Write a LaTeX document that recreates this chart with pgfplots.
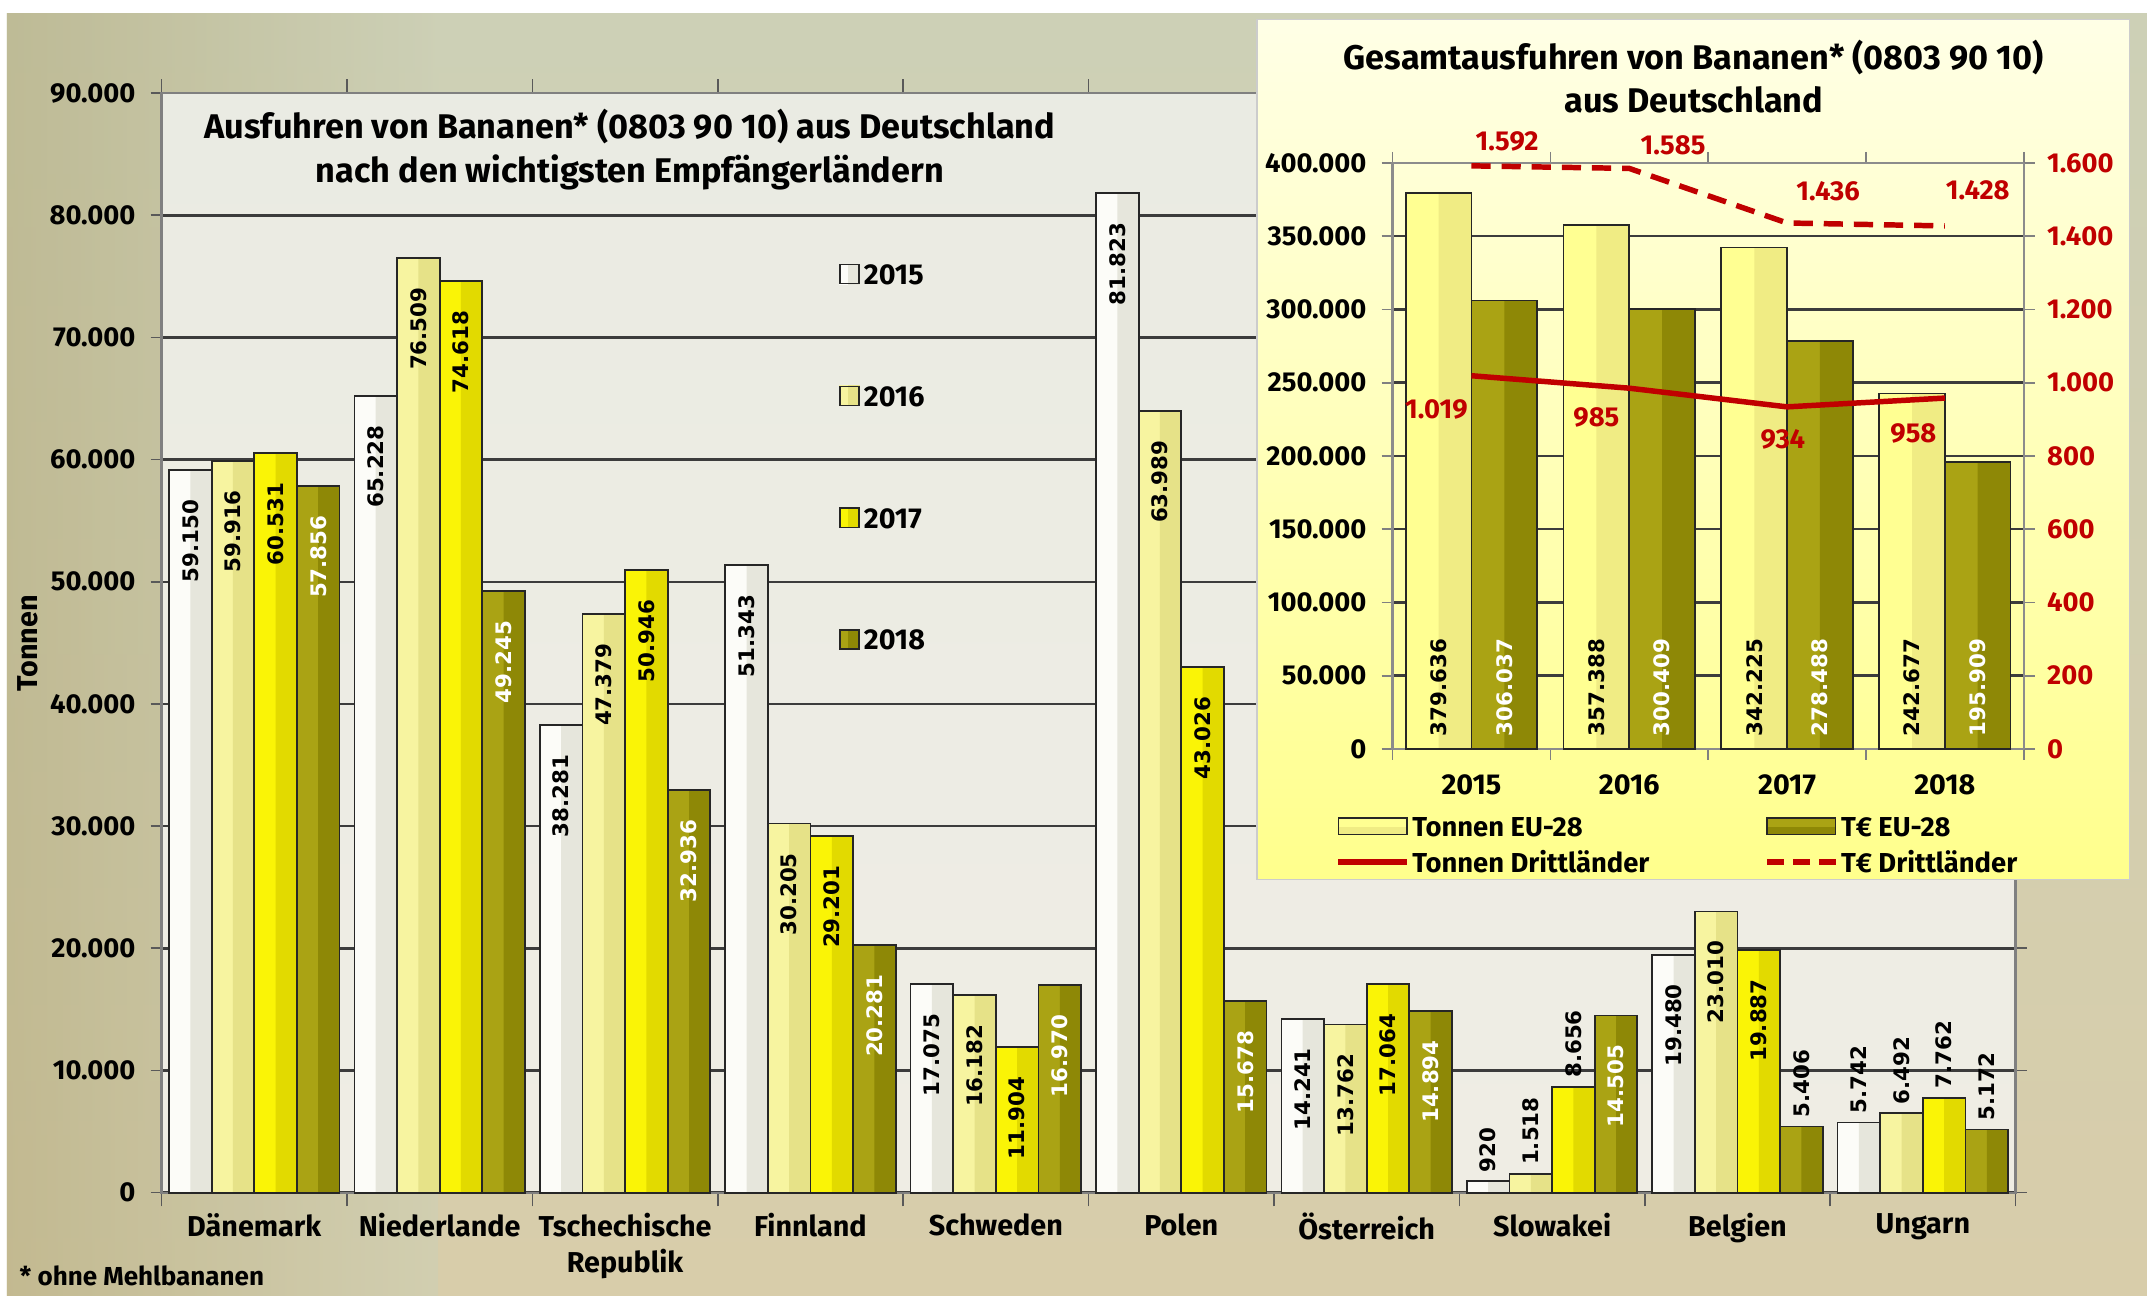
\documentclass[border=0pt]{standalone}
\usepackage{pgfplots}
\pgfplotsset{compat=1.18}
\usepackage{pgfplotstable}
\usepackage{fontspec}
\setmainfont{Fira Sans}
\newfontfamily\valfont{DejaVu Sans}

% bar colours: light (left half) and dark (right half)
\definecolor{aL}{HTML}{FCFCF8}\definecolor{aR}{HTML}{E6E6DC}
\definecolor{bL}{HTML}{F7F4A0}\definecolor{bR}{HTML}{E6E288}
\definecolor{cL}{HTML}{FAF406}\definecolor{cR}{HTML}{E2DA00}
\definecolor{dL}{HTML}{AAA314}\definecolor{dR}{HTML}{8E8806}
\definecolor{tL}{HTML}{FFFF92}\definecolor{tR}{HTML}{F0EC84}
\definecolor{dred}{HTML}{C00000}
\definecolor{gridc}{HTML}{3C3C3C}
\definecolor{photoTop}{HTML}{CDD0B6}
\definecolor{photoBot}{HTML}{D8CDAA}
\definecolor{photoL}{HTML}{B2AA7C}
\definecolor{plotTop}{HTML}{EAEBE3}
\definecolor{plotBot}{HTML}{EFEDE4}
\definecolor{insTop}{HTML}{FFFFE6}
\definecolor{insBot}{HTML}{FFFF8C}

% main chart, tonnes per year (fills); the labelled outlines repeat them below
\pgfplotstableread{
x y
0 59150
1 65228
2 38281
3 51343
4 17075
5 81823
6 14241
7 920
8 19480
9 5742
}\dA
\pgfplotstableread{
x y
0 59916
1 76509
2 47379
3 30205
4 16182
5 63989
6 13762
7 1518
8 23010
9 6492
}\dB
\pgfplotstableread{
x y
0 60531
1 74618
2 50946
3 29201
4 11904
5 43026
6 17064
7 8656
8 19887
9 7762
}\dC
\pgfplotstableread{
x y
0 57856
1 49245
2 32936
3 20281
4 16970
5 15678
6 14894
7 14505
8 5406
9 5172
}\dD

% inset bars (tonnes / thousand euro, EU-28)
\pgfplotstableread{
x y
0 379636
1 357388
2 342225
3 242677
}\dataTon
\pgfplotstableread{
x y
0 306037
1 300409
2 278488
3 195909
}\dataEur

\pgfplotsset{
  numfmt/.style={
    /pgf/number format/fixed, /pgf/number format/precision=0,
    /pgf/number format/1000 sep={.}, /pgf/number format/assume math mode=true},
  % two-tone bar: light full bar, darker right half
  fillL/.style={ybar, bar shift=0, draw=none, fill=#1, forget plot},
  fillR/.style={ybar, bar shift=0, draw=none, fill=#1, forget plot},
  outl/.style={ybar, bar shift=0, fill=none, draw=black!85, line width=0.65pt},
  sq/.style 2 args={legend image code/.code={
      \fill[#1] (0pt,-3.5pt) rectangle (7pt,3.5pt);
      \fill[#2] (3.5pt,-3.5pt) rectangle (7pt,3.5pt);
      \draw[black!85, line width=0.6pt] (0pt,-3.5pt) rectangle (7pt,3.5pt);}},
  vlab/.style={
    nodes near coords,
    visualization depends on={value \thisrow{anc}\as\myAnc},
    visualization depends on={\thisrow{ys}\as\myYs},
    visualization depends on={value \thisrow{tc}\as\myTc},
    every node near coord/.append style={font=\valfont\bfseries\fontsize{7.8}{9}\selectfont,
      inner sep=0pt, yshift=\myYs pt, rotate=90, anchor=\myAnc, text=\myTc}},
  baselab/.style={ybar, bar shift=0, draw=none, fill=none, forget plot,
    nodes near coords, point meta=explicit,
    every node near coord/.append style={font=\valfont\bfseries\fontsize{7.8}{9}\selectfont,
      inner sep=0pt, yshift=4.5pt, rotate=90, anchor=west, text=#1}},
  linelab/.style={nodes near coords,
    visualization depends on={\thisrow{dx}\as\myDx},
    visualization depends on={\thisrow{dy}\as\myDy},
    every node near coord/.append style={font=\bfseries\fontsize{10}{12}\selectfont,
      text=dred, anchor=center, inner sep=0pt, xshift=\myDx pt, yshift=\myDy pt}},
}

\begin{document}
\begin{tikzpicture}
\useasboundingbox (0,0) rectangle (784pt,473pt);
\fill[white] (0,0) rectangle (784pt,473pt);
\shade[top color=photoTop, bottom color=photoBot] (2.5pt,0) rectangle (784pt,468pt);
\shade[left color=photoL, right color=photoTop, opacity=0.55] (2.5pt,0) rectangle (160pt,468pt);

\begin{axis}[
  at={(59pt,37.5pt)}, anchor=south west,
  scale only axis, width=677pt, height=401.5pt,
  xmin=-0.5, xmax=9.5, ymin=0, ymax=90000,
  bar width=0.23,
  clip=false,
  axis background/.style={top color=plotTop, bottom color=plotBot},
  xtick={0,...,9},
  xticklabels={Dänemark,Niederlande,{Tschechische\\Republik},Finnland,Schweden,Polen,Österreich,Slowakei,Belgien,Ungarn},
  xticklabel style={align=center, font=\bfseries\fontsize{10.5}{13}\selectfont},
  major x tick style={draw=none},
  minor xtick={-0.5,0.5,...,9.5},
  ytick={0,10000,...,90000},
  scaled y ticks=false,
  yticklabel style={font=\bfseries\fontsize{10}{12}\selectfont, xshift=-2pt},
  tick align=outside, major tick length=4pt, minor tick length=5pt,
  tick style={draw=black!65, line width=0.6pt},
  ymajorgrids, grid style={draw=gridc, line width=0.9pt},
  axis line style={draw=black!50, line width=0.8pt},
  numfmt,
  legend cell align=left,
  legend style={at={(0.365,0.849)}, anchor=north west, draw=none, fill=none,
    inner sep=0pt, row sep=34pt, font=\bfseries\fontsize{10.5}{12}\selectfont,
    nodes={inner sep=1.5pt, text height=7.5pt, text depth=0pt}},
]
% 2015
\addplot[fillL=aL] table[x expr=\thisrow{x}-0.345, y=y]{\dA};
\addplot[fillR=aR, bar width=0.115] table[x expr=\thisrow{x}-0.2875, y=y]{\dA};
\addplot[outl, vlab, sq={aL}{aR}] table[x expr=\thisrow{x}-0.345, y=y]{
x y anc ys tc
0 59150 east -10.5 black
1 65228 east -10.5 black
2 38281 east -10.5 black
3 51343 east -10.5 black
4 17075 east -10.5 black
5 81823 east -10.5 black
6 14241 east -10.5 black
7 920 west 3 black
8 19480 east -10.5 black
9 5742 west 3 black
};
\addlegendentry{2015}
% 2016
\addplot[fillL=bL] table[x expr=\thisrow{x}-0.115, y=y]{\dB};
\addplot[fillR=bR, bar width=0.115] table[x expr=\thisrow{x}-0.0575, y=y]{\dB};
\addplot[outl, vlab, sq={bL}{bR}] table[x expr=\thisrow{x}-0.115, y=y]{
x y anc ys tc
0 59916 east -10.5 black
1 76509 east -10.5 black
2 47379 east -10.5 black
3 30205 east -10.5 black
4 16182 east -10.5 black
5 63989 east -10.5 black
6 13762 east -10.5 black
7 1518 west 3 black
8 23010 east -10.5 black
9 6492 west 3 black
};
\addlegendentry{2016}
% 2017
\addplot[fillL=cL] table[x expr=\thisrow{x}+0.115, y=y]{\dC};
\addplot[fillR=cR, bar width=0.115] table[x expr=\thisrow{x}+0.1725, y=y]{\dC};
\addplot[outl, vlab, sq={cL}{cR}] table[x expr=\thisrow{x}+0.115, y=y]{
x y anc ys tc
0 60531 east -10.5 black
1 74618 east -10.5 black
2 50946 east -10.5 black
3 29201 east -10.5 black
4 11904 east -10.5 black
5 43026 east -10.5 black
6 17064 east -10.5 black
7 8656 west 3 black
8 19887 east -10.5 black
9 7762 west 3 black
};
\addlegendentry{2017}
% 2018
\addplot[fillL=dL] table[x expr=\thisrow{x}+0.345, y=y]{\dD};
\addplot[fillR=dR, bar width=0.115] table[x expr=\thisrow{x}+0.4025, y=y]{\dD};
\addplot[outl, vlab, sq={dL}{dR}] table[x expr=\thisrow{x}+0.345, y=y]{
x y anc ys tc
0 57856 east -10.5 white
1 49245 east -10.5 white
2 32936 east -10.5 white
3 20281 east -10.5 white
4 16970 east -10.5 white
5 15678 east -10.5 white
6 14894 east -10.5 white
7 14505 east -10.5 white
8 5406 west 3 black
9 5172 west 3 black
};
\addlegendentry{2018}
\end{axis}

\node[align=center, font=\bfseries\fontsize{12.5}{16}\selectfont] at (230pt,418.5pt)
  {Ausfuhren von Bananen* (0803 90 10) aus Deutschland\\nach den wichtigsten Empfängerländern};
\node[rotate=90, font=\bfseries\fontsize{10.5}{12}\selectfont] at (10pt,238pt) {Tonnen};
\node[anchor=west, inner sep=0pt, font=\bfseries\fontsize{9.5}{11}\selectfont] at (7pt,7pt) {* ohne Mehlbananen};

% inset panel
\shade[top color=insTop, bottom color=insBot, draw=black!20] (459pt,152pt) rectangle (777.5pt,466pt);
\node[align=center, font=\bfseries\fontsize{12.5}{16}\selectfont] at (618.5pt,445pt)
  {Gesamtausfuhren von Bananen* (0803 90 10)\\aus Deutschland};

\begin{axis}[
  at={(508.5pt,199.5pt)}, anchor=south west,
  scale only axis, width=230.5pt, height=214pt,
  xmin=-0.5, xmax=3.5, ymin=0, ymax=400000,
  bar width=0.4165,
  clip=false,
  xtick={0,...,3}, xticklabels={2015,2016,2017,2018},
  xticklabel style={font=\bfseries\fontsize{10.5}{12}\selectfont, yshift=-2pt},
  major x tick style={draw=none},
  minor xtick={-0.5,0.5,...,3.5},
  ytick={0,50000,...,400000},
  scaled y ticks=false,
  yticklabel style={font=\bfseries\fontsize{10}{12}\selectfont, xshift=-2pt},
  tick align=outside, major tick length=4pt, minor tick length=4pt,
  tick style={draw=black!50, line width=0.6pt},
  ymajorgrids, grid style={draw=gridc, line width=0.9pt},
  axis line style={draw=black!45, line width=0.8pt},
  numfmt,
]
\addplot[fillL=tL] table[x expr=\thisrow{x}-0.208, y=y]{\dataTon};
\addplot[fillR=tR, bar width=0.208] table[x expr=\thisrow{x}-0.104, y=y]{\dataTon};
\addplot[outl, forget plot] table[x expr=\thisrow{x}-0.208, y=y]{\dataTon};
\addplot[fillL=dL] table[x expr=\thisrow{x}+0.208, y=y]{\dataEur};
\addplot[fillR=dR, bar width=0.208] table[x expr=\thisrow{x}+0.312, y=y]{\dataEur};
\addplot[outl, forget plot] table[x expr=\thisrow{x}+0.208, y=y]{\dataEur};
\addplot[baselab=black] table[x expr=\thisrow{x}-0.208, y expr=0, meta=y]{\dataTon};
\addplot[baselab=white] table[x expr=\thisrow{x}+0.208, y expr=0, meta=y]{\dataEur};
\end{axis}

\begin{axis}[
  at={(508.5pt,199.5pt)}, anchor=south west,
  scale only axis, width=230.5pt, height=214pt,
  xmin=-0.5, xmax=3.5, ymin=0, ymax=1600,
  axis y line*=right, axis x line=none,
  ytick={0,200,...,1600},
  yticklabel style={font=\bfseries\fontsize{10}{12}\selectfont, text=dred, xshift=1pt},
  tick align=outside, major tick length=4pt,
  tick style={draw=black!50, line width=0.6pt},
  axis line style={draw=black!45, line width=0.8pt},
  clip=false,
  numfmt,
  legend columns=2, legend cell align=left,
  legend style={at={(-0.091,-0.1086)}, anchor=north west, draw=none, fill=none,
    inner sep=0pt, row sep=3.5pt, font=\bfseries\fontsize{10}{12}\selectfont,
    nodes={inner sep=1pt, text height=7.5pt, text depth=0pt},
    /tikz/every even column/.append style={column sep=41pt}},
]
\addlegendimage{legend image code/.code={
  \fill[tL] (0pt,-3pt) rectangle (25pt,3pt); \fill[tR] (0pt,-3pt) rectangle (25pt,-0.5pt);
  \draw[black!85, line width=0.6pt] (0pt,-3pt) rectangle (25pt,3pt);}}
\addlegendentry{Tonnen EU-28}
\addlegendimage{legend image code/.code={
  \fill[dL] (0pt,-3pt) rectangle (25pt,3pt); \fill[dR] (0pt,-3pt) rectangle (25pt,-0.5pt);
  \draw[black!85, line width=0.6pt] (0pt,-3pt) rectangle (25pt,3pt);}}
\addlegendentry{T€ EU-28}
\addplot[linelab, dred, line width=2pt,
  legend image code/.code={\draw[dred, line width=2pt] (0pt,0pt) -- (25pt,0pt);}]
  table{
x y dx dy
0 1019 -12.8 -12.3
1 985 -12 -10.8
2 934 -1.5 -12
3 958 -11.5 -13
};
\addlegendentry{Tonnen Drittländer}
\addplot[linelab, dred, line width=2pt, dash pattern=on 7pt off 4pt,
  legend image code/.code={\draw[dred, line width=2pt, dash pattern=on 6pt off 3.5pt] (0pt,0pt) -- (25pt,0pt);}]
  table{
x y dx dy
0 1592 13 9
1 1585 16 8.5
2 1436 15 11.5
3 1428 12 13
};
\addlegendentry{T€ Drittländer}
\end{axis}
\end{tikzpicture}
\end{document}
